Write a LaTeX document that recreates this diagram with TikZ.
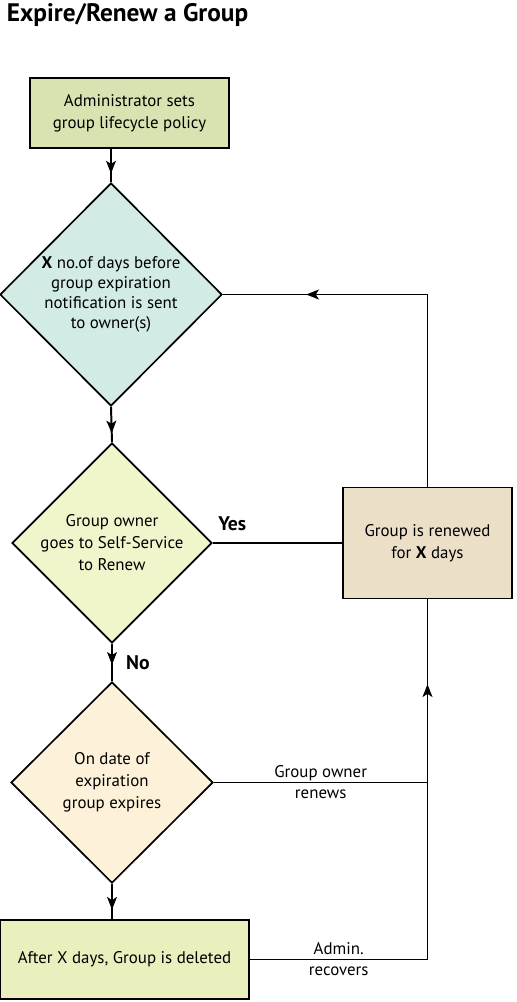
\documentclass[tikz,border=0pt]{standalone}
\usepackage{fontspec}
\setmainfont{PT Sans}
\usepackage{xcolor}
\usepackage{tikz}
\usetikzlibrary{arrows.meta,positioning,shapes.geometric,decorations.markings}
\definecolor{PolicyGreen}{HTML}{D7E4B2}
\definecolor{NoticeTeal}{HTML}{D2EBE5}
\definecolor{RenewLime}{HTML}{F1F5CB}
\definecolor{ExpireCream}{HTML}{FDF2D9}
\definecolor{RenewedTan}{HTML}{EBDFC8}
\definecolor{DeleteLime}{HTML}{E9F0BD}

\begin{document}
\begin{tikzpicture}[x=0.025cm, y=-0.025cm, line width=1.4pt,
  font=\fontsize{12}{15.6}\selectfont,
  box/.style={draw, line width=1.2pt, align=center, inner sep=0pt},
  gate/.style={diamond, aspect=1, draw, line width=1.2pt, align=center, inner sep=-8pt},
  lab/.style={align=center, font=\fontsize{12}{15}\selectfont},
  ans/.style={font=\fontsize{14}{16}\selectfont\bfseries},
  flow/.style={postaction={decorate}, decoration={markings,
    mark=at position #1 with {\arrow{Stealth[length=9pt,width=7pt,inset=2.2pt]}}}}]
\useasboundingbox (0,0) rectangle (517,1002);
\node[anchor=north west, inner sep=0pt, font=\fontsize{18}{20}\selectfont\bfseries] (title) at (6,2) {Expire/Renew a Group};
\node[box, fill=PolicyGreen, minimum width=4.975cm, minimum height=1.75cm] (policy) at (129.5,113) {Administrator sets\\group lifecycle policy};
\node[gate, fill=NoticeTeal, minimum width=5.55cm, minimum height=5.575cm, font=\fontsize{12}{14.2}\selectfont] (notice) at (111,294.5) {\textbf{X} no.of days before\\group expiration\\notification is sent\\to owner(s)};
\node[gate, fill=RenewLime, minimum width=5cm, minimum height=5cm] (renew) at (112,543) {Group owner\\goes to Self-Service\\to Renew};
\node[gate, fill=ExpireCream, minimum width=5.05cm, minimum height=5.025cm] (expire) at (112,782.5) {On date of\\expiration\\group expires};
\node[box, fill=RenewedTan, minimum width=4.225cm, minimum height=2.775cm] (renewed) at (427.5,543) {Group is renewed\\for \textbf{X} days};
\node[box, fill=DeleteLime, minimum width=6.225cm, minimum height=1.975cm] (deleted) at (124.5,959.5) {After X days, Group is deleted};
\coordinate (join) at (renewed.south |- expire.east);
\draw[flow=0.74] (policy.south -| notice.north) -- (notice.north);
\draw[flow=0.75] (notice.south) -- (renew.north);
\draw[flow=0.56] (renew.south) -- node[ans, right=6pt]{No} (expire.north);
\draw[flow=0.73] (expire.south) -- (expire.south |- deleted.north);
\draw (renew.east) -- node[ans, pos=0.15, yshift=0.48cm]{Yes} (renewed.west);
\draw[flow=0.79] (renewed.north) |- (notice.east);
\draw[flow=0.786] (expire.east) -- node[lab]{Group owner\\renews} (join) -- (renewed.south);
\draw (deleted.east) -| node[lab, pos=0.25]{Admin.\\recovers} (join);
\end{tikzpicture}
\end{document}
